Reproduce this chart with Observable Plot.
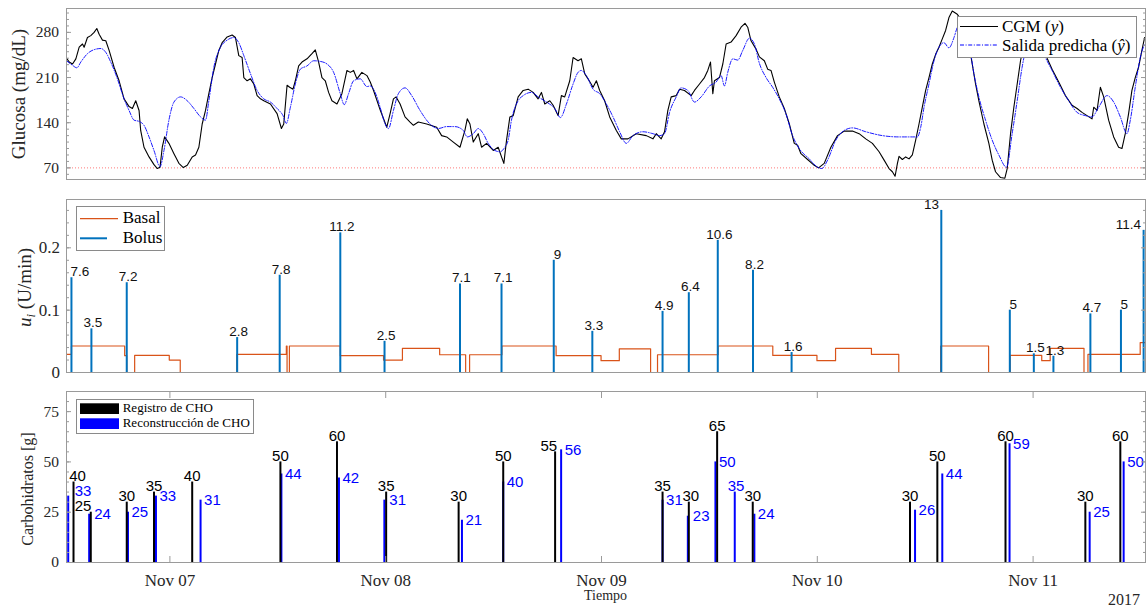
<!DOCTYPE html>
<html>
<head>
<meta charset="utf-8">
<script src="https://cdn.jsdelivr.net/npm/d3@7"></script>
<script src="https://cdn.jsdelivr.net/npm/@observablehq/plot@0.6"></script>
<style>
  body { margin: 0; background: #fff; }
  #fig { position: relative; width: 1146px; height: 610px; overflow: hidden; }
  #fig svg { position: absolute; left: 0; overflow: visible; }
</style>
</head>
<body>
<div id="fig"></div>
<script>
// Times are hours counted from 2017-11-06 00:00 (local time).
const t0 = new Date(2017, 10, 6);
const toDate = h => new Date(+t0 + h * 3600e3);

// CGM readings [hour, mg/dL]
const cgmReadings = [
  [12.5,240],[12.8,234],[13.17,231],[13.54,239],[13.91,257],[14.28,262],[14.46,257],[14.83,272],[15.2,275],[15.57,280],
  [15.87,286],[16.13,277],[16.5,268],[16.87,267],[17.24,252],[17.79,226],[18.35,205],[18.9,177],[19.46,165],[19.83,162],
  [20.2,174],[20.57,159],[20.75,128],[21.12,102],[21.68,87],[22.23,75],[22.6,69],[22.9,71],[23.15,102],[23.41,118],
  [23.89,108],[24.45,92],[25.0,77],[25.49,70.5],[25.93,74],[26.48,87],[26.85,90],[27.22,102],[27.59,138],[27.96,159],
  [28.33,185],[28.7,210],[29.07,231],[29.44,252],[29.81,264],[30.37,273],[30.92,276],[31.29,272],[31.66,244],[32.03,241],
  [32.22,210],[32.59,205],[32.96,208],[33.33,200],[33.7,182],[34.07,177],[34.44,174],[35.18,169],[35.92,154],[36.4,131],
  [36.66,138],[37.03,198],[37.32,195],[37.69,192],[37.95,205],[38.32,228],[38.69,234],[39.25,239],[39.8,247],[40.17,253],
  [40.54,234],[40.91,210],[41.28,205],[41.65,187],[42.02,174],[42.58,169],[43.13,185],[43.69,221],[44.06,218],[44.43,221],
  [44.8,208],[45.35,218],[45.91,213],[46.28,203],[46.65,190],[47.38,160],[48.12,133],[48.49,154],[48.86,177],[49.16,180],
  [49.6,169],[50.15,149],[50.71,141],[51.08,136],[51.63,141],[52.56,138],[53.67,133],[54.22,120],[54.78,118],[55.52,110],
  [56.26,102],[56.81,128],[57.07,146],[57.37,138],[57.74,110],[58.29,123],[58.66,102],[59.22,108],[59.96,97],[60.51,102],
  [60.88,87],[61.14,77],[61.44,113],[61.81,149],[62.18,151],[62.73,180],[63.29,190],[63.84,192],[64.4,187],[64.95,177],
  [65.32,187],[65.69,169],[66.25,174],[66.62,167],[67.17,151],[67.54,182],[67.91,180],[68.47,205],[68.84,241],[69.39,236],
  [69.76,239],[70.13,216],[70.5,208],[71.06,195],[71.43,205],[71.8,190],[72.35,174],[72.91,149],[73.65,128],[74.2,115],
  [74.94,115],[75.87,123],[76.98,120],[77.72,115],[78.09,123],[78.64,115],[79.01,126],[79.38,159],[79.75,180],[80.31,182],
  [80.68,192],[81.23,190],[81.97,182],[82.34,190],[82.9,200],[83.45,210],[83.82,221],[84.12,234],[84.38,185],[84.56,205],
  [85.12,210],[85.49,231],[85.86,262],[86.41,265],[86.97,275],[87.52,288],[87.96,294],[88.26,288],[88.63,267],[89.19,254],
  [89.56,242],[90.11,236],[90.48,223],[90.85,221],[91.22,203],[91.77,180],[92.33,162],[92.89,138],[93.44,108],[93.81,105],
  [94.18,92],[94.92,83],[95.66,74],[96.14,70],[96.77,77],[97.51,102],[98.25,120],[98.99,127],[99.91,127],[100.65,123],
  [101.39,115],[102.13,108],[102.87,95],[103.43,82],[103.98,69],[104.35,64],[104.65,57],[104.91,77],[105.09,88],[105.46,83],
  [105.83,87],[106.2,84],[106.57,90],[106.94,113],[107.31,138],[107.68,164],[108.05,190],[108.42,210],[108.79,231],[109.16,246],
  [109.53,257],[109.9,270],[110.27,283],[110.64,303],[111.01,313],[111.57,308],[111.94,301],[112.31,285],[112.68,265],[113.0,250],
  [113.23,231],[113.6,200],[113.97,174],[114.53,138],[115.08,108],[115.45,82],[115.82,64],[116.38,55],[116.86,54],[117.12,69],
  [117.49,123],[117.86,164],[118.23,200],[118.6,236],[118.97,262],[119.52,290],[120.26,285],[121.0,260],[121.56,240],[122.11,223],
  [122.85,203],[123.59,182],[124.33,167],[124.89,162],[125.44,156],[126.0,151],[126.55,146],[126.74,164],[127.11,159],[127.48,195],
  [127.85,180],[128.4,144],[128.96,118],[129.51,102],[129.88,100],[130.25,123],[130.62,154],[130.99,190],[131.36,210],[131.73,226],
  [132.1,252],[132.4,272]
];

// Model output ŷ [hour, mg/dL]
const predictedReadings = [
  [12.5,236],[13.17,229],[13.65,225],[14.09,234],[14.83,247],[15.76,254],[16.31,255],[16.87,249],[17.42,234],[18.16,208],
  [18.9,177],[19.46,159],[20.01,144],[20.57,142],[21.12,136],[21.68,118],[22.23,97],[22.9,72],[23.34,97],[23.89,144],
  [24.45,172],[25.19,180],[25.93,174],[26.67,162],[27.41,149],[27.96,144],[28.33,174],[28.89,226],[29.63,257],[30.37,268],
  [31.11,272],[31.66,264],[32.22,244],[32.96,216],[33.7,190],[34.44,177],[35.18,172],[35.92,162],[36.58,151],[36.95,139],
  [37.4,164],[37.95,200],[38.51,223],[39.25,228],[39.99,236],[40.73,235],[41.47,231],[42.21,218],[42.95,185],[43.39,168],
  [43.87,185],[44.43,205],[45.17,208],[45.91,196],[46.28,197],[47.02,180],[47.38,164],[47.94,138],[48.31,131],[48.86,159],
  [49.41,185],[50.15,194],[50.89,182],[51.82,159],[52.93,138],[53.85,131],[54.78,134],[55.7,134],[56.63,128],[57.07,118],
  [57.74,123],[58.29,131],[58.85,123],[59.4,108],[60.14,97],[60.7,95],[61.25,102],[61.62,113],[61.99,144],[62.73,174],
  [63.29,182],[64.21,187],[64.95,180],[65.88,172],[66.8,162],[67.43,148],[68.1,169],[68.84,200],[69.39,218],[69.76,221],
  [70.32,213],[71.06,192],[71.8,185],[72.54,169],[73.28,149],[74.02,126],[74.76,108],[75.5,120],[76.61,126],[77.72,123],
  [78.46,120],[79.01,123],[79.57,156],[80.31,180],[80.86,194],[81.6,190],[82.34,172],[83.08,180],[84.01,197],[84.75,203],
  [85.3,213],[85.67,197],[86.04,218],[86.6,239],[87.15,237],[87.71,252],[88.45,271],[89.0,262],[89.56,232],[90.3,210],
  [91.03,195],[91.77,177],[92.51,154],[93.25,120],[93.99,100],[95.1,84],[96.03,71],[96.51,69],[97.14,82],[98.06,113],
  [98.99,128],[99.91,132],[101.39,126],[103.24,120],[105.09,118],[107.13,118],[107.5,133],[107.87,164],[108.42,200],[108.98,236],
  [109.53,257],[110.09,264],[110.64,256],[111.2,272],[111.57,288],[112.12,300],[112.68,280],[113.42,216],[113.97,180],[114.71,144],
  [115.45,113],[116.19,90],[117.04,71],[117.67,123],[118.23,174],[118.78,226],[119.15,252],[119.89,275],[120.63,265],[121.37,241],
  [122.11,221],[122.85,200],[123.96,174],[124.89,156],[125.81,151],[126.55,149],[127.29,164],[128.22,182],[128.96,172],[129.7,149],
  [130.44,123],[130.81,144],[131.36,195],[131.92,241],[132.4,262]
];

// Hypoglycaemia threshold (mg/dL)
const hypoThreshold = 70;

// Basal rate changes [hour, U/min]; each rate holds until the next change
const basalSchedule = [
  [12.5,0.029],[13.05,0.0425],[18.97,0.027],[19.2,0],[20.08,0.0274],[23.93,0.02],[25.15,0],[31.44,0.029],[36.95,0.0425],[37.03,0],
  [37.29,0.0425],[42.95,0.027],[47.76,0.02],[49.86,0.0387],[54.0,0.0285],[56.89,0],[57.33,0.0285],[60.92,0.0425],[66.95,0.027],[71.95,0.019],
  [73.98,0.038],[77.46,0],[78.23,0.0285],[84.97,0.0425],[91.05,0.0274],[95.96,0.019],[98.03,0.0387],[102.02,0.029],[105.06,0],[109.72,0.0425],
  [115.05,0],[117.45,0.0274],[120.96,0.019],[121.9,0.0387],[125.66,0],[126.1,0.029],[131.91,0.048],[132.5,0.048]
];

// Bolus doses [hour, U]
const bolusDoses = [
  [13.05,7.6],[15.27,3.5],[19.2,7.2],[31.48,2.8],[36.21,7.8],[42.95,11.2],[47.87,2.5],[56.26,7.1],[60.88,7.1],[66.69,9],
  [70.98,3.3],[78.79,4.9],[81.71,6.4],[84.93,10.6],[88.85,8.2],[93.14,1.6],[109.79,13],[117.41,5],[120.08,1.5],[122.26,1.3],
  [126.37,4.7],[129.77,5],[132.29,11.4]
];
// A bolus dose is shown as an infusion rate over 50 min (U/min)
const bolusMinutes = 50;

// Logged carbohydrate intakes [hour, g]
const choLogged = [
  [13.28,40],[15.2,25],[19.2,30],[22.23,35],[26.48,40],[36.29,50],[42.58,60],[48.05,35],[56.11,30],[61.07,50],
  [66.84,55],[78.79,35],[81.71,30],[84.86,65],[88.82,30],[106.31,30],[109.35,50],[116.93,60],[125.81,30],[129.7,60]
];

// Reconstructed carbohydrate intakes [hour, g]
const choEstimated = [
  [12.69,33],[15.02,24],[19.34,25],[22.45,33],[27.41,31],[36.4,44],[42.8,42],[47.85,31],[56.48,21],[61.07,40],
  [67.51,56],[78.79,31],[81.6,23],[84.67,50],[86.82,35],[89.0,24],[106.87,26],[109.9,44],[117.38,59],[126.29,25],
  [130.07,50]
];

// Axis ticks
const glucoseTicks = [70, 140, 210, 280];
const insulinTicks = [0, 0.1, 0.2];
const choTicks = [0, 25, 50, 75];
const dayTicks = [7, 8, 9, 10, 11].map(d => new Date(2017, 10, d));

// ---------------------------------------------------------------------------
const W = 1146, ML = 66, MR = 1;
const xDomain = [toDate(12.5), toDate(132.5)];
const GRAY = "#9a9a9a";
const INK = "#262626";
const SERIF = "'Liberation Serif', 'DejaVu Serif', serif";
const SANS = "'Liberation Sans', Arial, sans-serif";
const BASAL = "#D95319", BOLUS = "#0072BD", RECON = "#0000ff";

const pairs = (arr, k) => arr.map(([h, v]) => ({t: toDate(h), [k]: v}));
const cgm = pairs(cgmReadings, "v");
const pred = pairs(predictedReadings, "v");
const basal = pairs(basalSchedule, "v");
const bolus = pairs(bolusDoses, "dose");
const logged = pairs(choLogged, "g");
const estimated = pairs(choEstimated, "g");

// inward tick marks on both sides of the box, plus the left labels
function boxAxesY(major, minor, fontSize, pad, fmt) {
  const blank = () => "";
  return [
    Plot.axisY({anchor: "left", ticks: minor, tickSize: -3, tickFormat: blank, stroke: GRAY}),
    Plot.axisY({anchor: "right", ticks: minor, tickSize: -3, tickFormat: blank, stroke: GRAY}),
    Plot.axisY({anchor: "left", ticks: major, tickSize: -5, tickFormat: blank, stroke: GRAY}),
    Plot.axisY({anchor: "right", ticks: major, tickSize: -5, tickFormat: blank, stroke: GRAY}),
    Plot.axisY({anchor: "left", ticks: major, tickSize: 0, tickPadding: pad, tickFormat: fmt,
                fontSize, fontFamily: SERIF, fill: INK})
  ];
}

const baseStyle = {fontFamily: SERIF, fontSize: "15px", color: INK, background: "transparent", overflow: "visible"};
const fig = document.getElementById("fig");
function place(svg, top) { svg.style.top = top + "px"; fig.appendChild(svg); return svg; }

// rotated y title made of styled pieces
function yTitle(svg, pieces, x, y, size) {
  const t = d3.select(svg).append("text")
    .attr("transform", `translate(${x},${y}) rotate(-90)`)
    .attr("text-anchor", "middle")
    .attr("fill", INK)
    .style("font-family", SERIF).style("font-size", size + "px");
  for (const p of pieces) {
    const s = t.append("tspan").text(p.text);
    if (p.italic) s.style("font-style", "italic");
    if (p.size) s.style("font-size", p.size + "px");
    if (p.dy) s.attr("dy", p.dy);
  }
  return t;
}

// legend group with left-aligned text
function legendGroup(svg, size) {
  return d3.select(svg).append("g")
    .attr("text-anchor", "start")
    .style("font-family", SERIF).style("font-size", size + "px")
    .attr("fill", "#000");
}

// ---------------- Panel 1: glucose ----------------
const p1 = place(Plot.plot({
  width: W, height: 190, marginLeft: ML, marginRight: MR, marginTop: 8, marginBottom: 11,
  x: {type: "time", domain: xDomain, label: null, axis: null},
  y: {domain: [52, 317], label: null},
  style: baseStyle,
  marks: [
    Plot.ruleY([hypoThreshold], {stroke: "#ff6b6b", strokeOpacity: 0.9, strokeWidth: 1, strokeDasharray: "1,2"}),
    Plot.line(cgm, {x: "t", y: "v", stroke: "#000", strokeWidth: 1.1, clip: true}),
    Plot.line(pred, {x: "t", y: "v", stroke: RECON, strokeWidth: 0.9, strokeDasharray: "4,1.6,1,1.6", curve: "monotone-x", clip: true}),
    Plot.frame({stroke: GRAY}),
    ...boxAxesY(glucoseTicks, d3.range(60, 311, 10), 15.5, 7.5)
  ]
}), 0);
yTitle(p1, [{text: "Glucosa (mg/dL)"}], 25, 94, 19);
{
  const g = legendGroup(p1, 17);
  g.append("rect").attr("x", 957.5).attr("y", 16.5).attr("width", 179).attr("height", 41)
    .attr("fill", "#fff").attr("stroke", "#8a8a8a");
  g.append("line").attr("x1", 960).attr("x2", 998).attr("y1", 26.5).attr("y2", 26.5)
    .attr("stroke", "#000").attr("stroke-width", 1.1);
  g.append("line").attr("x1", 960).attr("x2", 998).attr("y1", 45).attr("y2", 45)
    .attr("stroke", RECON).attr("stroke-width", 1).attr("stroke-dasharray", "4,1.6,1,1.6");
  const a = g.append("text").attr("x", 1002).attr("y", 32);
  a.append("tspan").text("CGM (");
  a.append("tspan").text("y").style("font-style", "italic");
  a.append("tspan").text(")");
  const b = g.append("text").attr("x", 1002).attr("y", 50.5);
  b.append("tspan").text("Salida predicha (");
  b.append("tspan").text("ŷ").style("font-style", "italic");
  b.append("tspan").text(")");
}

// ---------------- Panel 2: insulin ----------------
const bolusDx = {0: 8.5, 9: 3.8, 16: -9.8, 17: 3.5, 21: 3.2, 22: -15.3};
const p2 = place(Plot.plot({
  width: W, height: 190, marginLeft: ML, marginRight: MR, marginTop: 9, marginBottom: 8,
  x: {type: "time", domain: xDomain, label: null, axis: null},
  y: {domain: [0, 0.2775], label: null},
  style: baseStyle,
  marks: [
    Plot.line(basal, {x: "t", y: "v", curve: "step-after", stroke: BASAL, strokeWidth: 1.2}),
    Plot.ruleX(bolus, {x: "t", y1: 0, y2: d => d.dose / bolusMinutes, stroke: BOLUS, strokeWidth: 2}),
    Plot.text(bolus, {
      x: "t", y: d => d.dose / bolusMinutes, text: d => String(d.dose),
      lineAnchor: "bottom", dy: -1.5,
      fontFamily: SANS, fontSize: 13.5, fill: "#111"
    }),
    Plot.frame({stroke: GRAY}),
    ...boxAxesY(insulinTicks, d3.range(0, 0.27, 0.02), 17, 6.5, d => d === 0 ? "0" : String(d))
  ]
}), 190);
yTitle(p2, [
  {text: "u", italic: true},
  {text: "i", italic: true, size: 13, dy: 4},
  {text: " (U/min)", dy: -4}
], 30.5, 97.5, 19);
{
  const g = legendGroup(p2, 17);
  g.append("rect").attr("x", 76.5).attr("y", 16.5).attr("width", 88).attr("height", 44)
    .attr("fill", "#fff").attr("stroke", "#8a8a8a");
  g.append("line").attr("x1", 80).attr("x2", 118).attr("y1", 28.7).attr("y2", 28.7)
    .attr("stroke", BASAL).attr("stroke-width", 1.2);
  g.append("line").attr("x1", 80).attr("x2", 107).attr("y1", 48.3).attr("y2", 48.3)
    .attr("stroke", BOLUS).attr("stroke-width", 2);
  g.append("text").attr("x", 122.7).attr("y", 33.3).text("Basal");
  g.append("text").attr("x", 122.7).attr("y", 53.3).text("Bolus");
}

// ---------------- Panel 3: carbohydrates ----------------
const loggedDx = {0: 4, 1: -7.7, 10: -6.3, 12: 2};
const estDx = {0: 3, 1: 1.5, 7: 1.5, 12: 1.5};
const estDy = {0: -4.5};
const estAbove = new Set([14]);
const p3 = place(Plot.plot({
  width: W, height: 230, marginLeft: ML, marginRight: MR, marginTop: 11, marginBottom: 48,
  x: {type: "time", domain: xDomain, label: null},
  y: {domain: [0, 85], label: null},
  style: baseStyle,
  marks: [
    Plot.ruleX(estimated, {x: "t", y1: 0, y2: "g", stroke: RECON, strokeWidth: 2}),
    Plot.ruleX(logged, {x: "t", y1: 0, y2: "g", stroke: "#000", strokeWidth: 2}),
    Plot.text(logged, {
      x: "t", y: "g", text: d => String(d.g), lineAnchor: "bottom", dy: -1,
      fontFamily: SANS, fontSize: 15, fill: "#000"
    }),
    Plot.text(estimated.filter((d, i) => !estAbove.has(i)), {
      x: "t", y: "g", text: d => String(d.g), lineAnchor: "middle", textAnchor: "start", dx: 3.5,
      fontFamily: SANS, fontSize: 15, fill: RECON
    }),
    Plot.text(estimated.filter((d, i) => estAbove.has(i)), {
      x: "t", y: "g", text: d => String(d.g), lineAnchor: "bottom", dy: -1, dx: 1.3,
      fontFamily: SANS, fontSize: 15, fill: "#0000fe"
    }),
    Plot.frame({stroke: GRAY}),
    ...boxAxesY(choTicks, d3.range(0, 81, 5), 15.5, 7.5),
    Plot.axisX({anchor: "bottom", ticks: dayTicks, tickSize: -6, tickFormat: () => "", stroke: GRAY}),
    Plot.axisX({anchor: "top", ticks: dayTicks, tickSize: -6, tickFormat: () => "", stroke: GRAY}),
    Plot.axisX({anchor: "bottom", ticks: dayTicks, tickSize: 0, tickPadding: 11,
                tickFormat: d3.timeFormat("%b %d"), fontSize: 17, fontFamily: SERIF, fill: INK})
  ]
}), 380);
yTitle(p3, [{text: "Carbohidratos [g]"}], 33, 109, 16);
{
  const s = d3.select(p3);
  s.append("text").attr("x", 605.5).attr("y", 220).attr("text-anchor", "middle")
    .style("font-family", SERIF).style("font-size", "14px").attr("fill", INK).text("Tiempo");
  s.append("text").attr("x", 1140).attr("y", 225).attr("text-anchor", "end")
    .style("font-family", SERIF).style("font-size", "16px").attr("fill", INK).text("2017");
  const g = legendGroup(p3, 13);
  g.append("rect").attr("x", 76.5).attr("y", 19.5).attr("width", 177).attr("height", 34)
    .attr("fill", "#fff").attr("stroke", "#8a8a8a");
  g.append("rect").attr("x", 80).attr("y", 23.3).attr("width", 39).attr("height", 10.7).attr("fill", "#000");
  g.append("rect").attr("x", 80).attr("y", 38.3).attr("width", 39).attr("height", 10.7).attr("fill", RECON);
  g.append("text").attr("x", 122.7).attr("y", 32).text("Registro de CHO");
  g.append("text").attr("x", 122.7).attr("y", 47).text("Reconstrucción de CHO");
}

// per-label nudges that keep neighbouring labels apart (labels are in data order)
function nudge(svg, fontSize, fill, dxMap, base, dyMap = {}) {
  const texts = d3.select(svg).selectAll("g[aria-label='text']").filter(function () {
    return this.getAttribute("font-size") == fontSize && this.getAttribute("fill") === fill;
  }).selectAll("text");
  texts.each(function (d, i) {
    const ex = (dxMap[i] ?? base), ey = (dyMap[i] ?? 0);
    if (ex || ey) {
      const tr = this.getAttribute("transform") || "";
      this.setAttribute("transform", `${tr} translate(${ex},${ey})`);
    }
  });
}
nudge(p2, 13.5, "#111", bolusDx, 1.5);
nudge(p3, 15, "#000", loggedDx, 0);
nudge(p3, 15, RECON, estDx, 0, estDy);
</script>
</body>
</html>
